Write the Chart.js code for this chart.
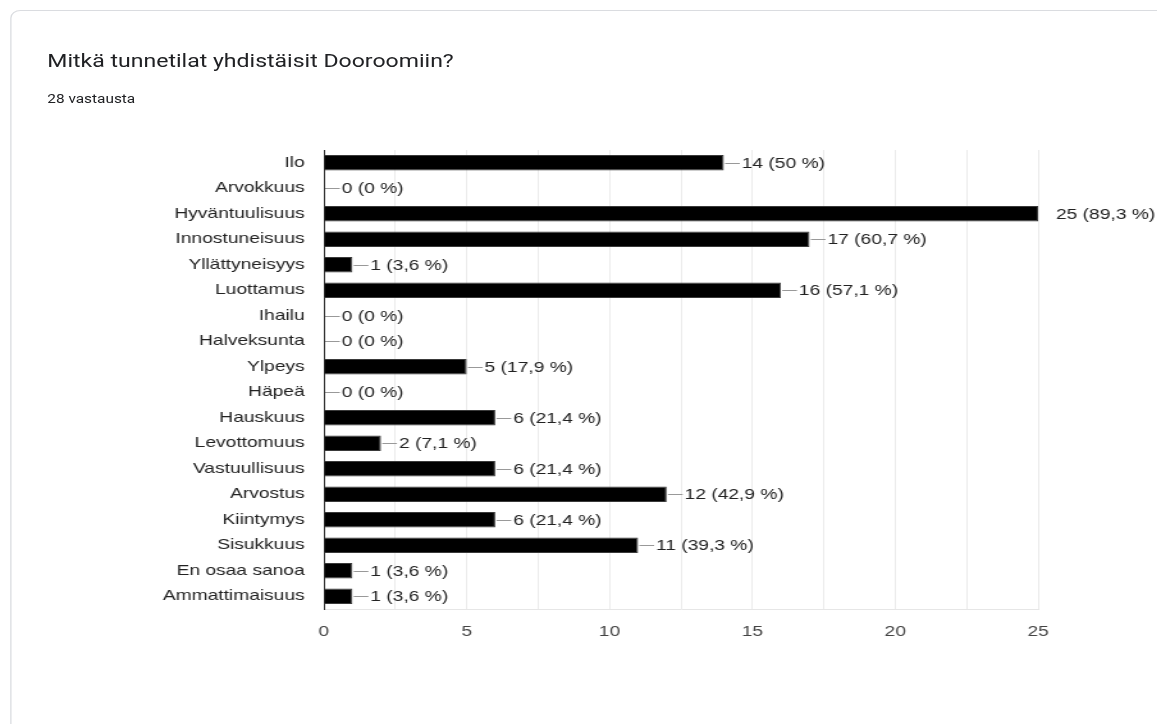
<!DOCTYPE html>
<html lang="fi">
<head>
<meta charset="UTF-8">
<title>Mitkä tunnetilat yhdistäisit Dooroomiin?</title>
<script src="https://cdn.jsdelivr.net/npm/chart.js"></script>
<style>
    html, body { margin: 0; padding: 0; background: #fff; overflow: hidden; }
    /* the reference is stretched sideways, so the whole card is drawn narrow and scaled */
    #stretch { position: absolute; left: 0; top: 0; width: 904px; height: 724px; transform: scaleX(1.28); transform-origin: 0 0; }
    .card { position: absolute; left: 8px; top: 10px; width: 1000px; height: 800px; border: 1px solid #dadce0; border-radius: 8px; box-sizing: border-box; }
    .title { position: absolute; left: 37px; top: 50px; font-family: Roboto, Arial, sans-serif; font-size: 18px; color: #202124; white-space: nowrap; }
    .count { position: absolute; left: 37px; top: 92px; font-family: Roboto, Arial, sans-serif; font-size: 12px; color: #202124; }
    #chart { position: absolute; left: 0; top: 0; }
</style>
</head>
<body>
<div id="stretch">
    <div class="card"></div>
    <div class="title">Mitkä tunnetilat yhdistäisit Dooroomiin?</div>
    <div class="count">28 vastausta</div>
    <canvas id="chart" width="904" height="724"></canvas>
</div>
<script>
    var tunteet = ['Ilo', 'Arvokkuus', 'Hyväntuulisuus', 'Innostuneisuus', 'Yllättyneisyys', 'Luottamus',
        'Ihailu', 'Halveksunta', 'Ylpeys', 'Häpeä', 'Hauskuus', 'Levottomuus', 'Vastuullisuus',
        'Arvostus', 'Kiintymys', 'Sisukkuus', 'En osaa sanoa', 'Ammattimaisuus']
    var vastaukset = [14, 0, 25, 17, 1, 16, 0, 0, 5, 0, 6, 2, 6, 12, 6, 11, 1, 1]
    var prosentit = ['50', '0', '89,3', '60,7', '3,6', '57,1', '0', '0', '17,9', '0', '21,4', '7,1', '21,4',
        '42,9', '21,4', '39,3', '3,6', '3,6']
    var xTicks = [0, 5, 10, 15, 20, 25]

    var fontti = 'Arial, "Liberation Sans", sans-serif'

    // value label with a short grey leader line after each bar
    const arvoTekstit = {
        id: 'arvoTekstit',
        afterDatasetsDraw(chart) {
            const ctx = chart.ctx
            const meta = chart.getDatasetMeta(0)
            const oikea = chart.chartArea.right
            ctx.save()
            ctx.font = '15px ' + fontti
            ctx.textBaseline = 'middle'
            ctx.fillStyle = '#222'
            meta.data.forEach(function (bar, i) {
                if (bar.x < oikea - 1) {
                    ctx.strokeStyle = '#999'
                    ctx.lineWidth = 1
                    ctx.beginPath()
                    ctx.moveTo(bar.x + 1, Math.round(bar.y) + 0.5)
                    ctx.lineTo(bar.x + 12.5, Math.round(bar.y) + 0.5)
                    ctx.stroke()
                }
                ctx.fillText(vastaukset[i] + ' (' + prosentit[i] + ' %)', bar.x + 14, bar.y + 1)
            })
            ctx.restore()
        }
    }

    new Chart(document.getElementById('chart'), {
        type: 'bar',
        data: {
            labels: tunteet,
            datasets: [{
                data: vastaukset,
                backgroundColor: '#000',
                borderColor: '#3a3a3a',
                borderWidth: 1,
                barPercentage: 0.6,
                categoryPercentage: 1
            }]
        },
        options: {
            indexAxis: 'y',
            responsive: false,
            animation: false,
            layout: { padding: { top: 150, right: 93, bottom: 0, left: 0 } },
            plugins: { legend: { display: false }, tooltip: { enabled: false } },
            scales: {
                x: {
                    min: 0,
                    max: 25,
                    afterFit: function (scale) { scale.height = 115 },
                    grid: { color: '#ebebeb', drawTicks: false },
                    border: { color: '#e6e6e6' },
                    ticks: {
                        stepSize: 2.5,
                        autoSkip: false,
                        maxRotation: 0,
                        padding: 14,
                        color: '#444',
                        font: { family: fontti, size: 15 },
                        callback: function (v) { return xTicks.indexOf(v) >= 0 ? v : '' }
                    }
                },
                y: {
                    afterFit: function (scale) { scale.width = 253 },
                    grid: { display: false, drawTicks: false },
                    border: { color: '#333' },
                    ticks: {
                        padding: 15,
                        autoSkip: false,
                        color: '#222',
                        font: { family: fontti, size: 15 }
                    }
                }
            }
        },
        plugins: [arvoTekstit]
    })
</script>
</body>
</html>
